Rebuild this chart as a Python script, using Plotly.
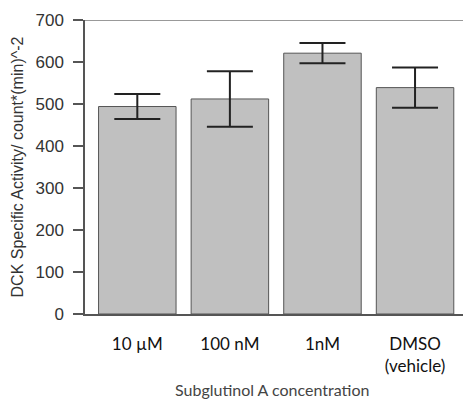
import plotly.graph_objects as go

categories = ["10 µM", "100 nM", "1nM", "DMSO<br>(vehicle)"]
values = [494, 512, 621, 539]
errors = [30, 66, 24, 48]
y_ticks = [0, 100, 200, 300, 400, 500, 600, 700]

fig = go.Figure()
fig.add_trace(go.Bar(
    x=list(range(len(categories))),
    y=values,
    marker=dict(color="#c0c0c0", line=dict(color="#555555", width=1)),
    error_y=dict(type="data", array=errors, visible=True, color="#222222", thickness=2, width=23),
    width=0.837,
))

fig.update_layout(
    width=463, height=402,
    margin=dict(l=85, r=0, t=20, b=88),
    paper_bgcolor="white", plot_bgcolor="white",
    showlegend=False,
    xaxis=dict(
        range=[-0.565, 3.518],
        tickmode="array", tickvals=list(range(len(categories))), ticktext=categories,
        showline=True, linecolor="#555555", linewidth=1.5,
        ticks="", showgrid=False, zeroline=False,
        ticklabelstandoff=14,
        tickfont=dict(family="Lato", size=17, color="#111111"),
    ),
    yaxis=dict(
        range=[0, 700],
        tickmode="array", tickvals=y_ticks,
        showline=True, linecolor="#555555", linewidth=1.5,
        ticks="outside", ticklen=10, tickcolor="#555555", tickwidth=1.5,
        showgrid=False, zeroline=False,
        ticklabelstandoff=6,
        tickfont=dict(family="Liberation Sans", size=17, color="#333333"),
        title=dict(text="DCK Specific Activity/ count*(min)^-2",
                   font=dict(family="Liberation Sans", size=16, color="#333333"),
                   standoff=8),
    ),
    shapes=[dict(type="line", xref="paper", yref="y", x0=0, x1=1, y0=700, y1=700,
                 line=dict(color="#777777", width=1.5))],
    annotations=[dict(text="Subglutinol A concentration", xref="paper", yref="paper",
                      x=(272 - 85) / 378, y=-(389 - 314) / 294, xanchor="center", yanchor="middle",
                      showarrow=False, font=dict(family="Lato", size=16, color="#444444"))],
)

fig.write_html("out.html")
